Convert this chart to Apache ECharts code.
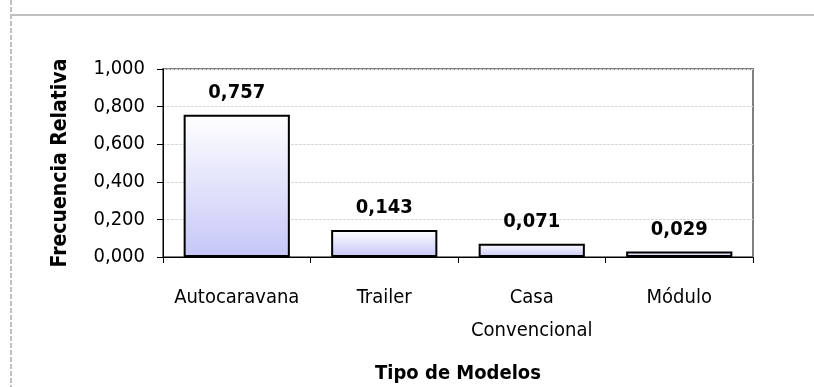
<!DOCTYPE html>
<html>
<head>
<meta charset="utf-8">
<script src="https://cdn.jsdelivr.net/npm/echarts@6/dist/echarts.min.js"></script>
<style>
  html, body { margin: 0; padding: 0; background: #fff; }
  #chart { width: 814px; height: 387px; }
</style>
</head>
<body>
<div id="chart"></div>
<script>
// Frecuencia relativa por tipo de modelo
const categories = ['Autocaravana', 'Trailer', 'Casa\nConvencional', 'Módulo'];
const frecuencias = [0.757, 0.143, 0.071, 0.029];
const yTicks = [0, 0.2, 0.4, 0.6, 0.8, 1.0];

const FONT = '"DejaVu Sans Condensed", "DejaVu Sans", sans-serif';
const fmt = v => v.toFixed(3).replace('.', ',');

const chart = echarts.init(document.getElementById('chart'), null, { renderer: 'canvas' });

chart.setOption({
  animation: false,
  backgroundColor: '#ffffff',
  grid: { left: 163, right: 61, top: 69, bottom: 130, show: true, borderColor: '#808080', borderWidth: 2, backgroundColor: 'transparent' },
  graphic: [
    { type: 'line', shape: { x1: 11, y1: 0, x2: 11, y2: 387 }, style: { stroke: '#c0c0c0', lineWidth: 2, lineDash: [5, 2] } },
    { type: 'line', shape: { x1: 11, y1: 15, x2: 814, y2: 15 }, style: { stroke: '#c0c0c0', lineWidth: 2 } }
  ],
  xAxis: {
    type: 'category',
    data: categories,
    name: 'Tipo de Modelos',
    nameLocation: 'middle',
    nameGap: 107,
    nameTextStyle: { fontFamily: FONT, fontSize: 20, fontWeight: 'bold', color: '#000' },
    axisLine: { lineStyle: { color: '#000', width: 1 } },
    axisTick: { show: true, length: 6, lineStyle: { color: '#000' } },
    axisLabel: { fontFamily: FONT, fontSize: 20, color: '#000', margin: 24, lineHeight: 33, interval: 0 }
  },
  yAxis: {
    type: 'value',
    min: 0,
    max: 1,
    interval: 0.2,
    name: 'Frecuencia Relativa',
    nameLocation: 'middle',
    nameGap: 92,
    nameRotate: 90,
    nameTextStyle: { fontFamily: FONT, fontSize: 21, fontWeight: 'bold', color: '#000' },
    axisLine: { show: true, lineStyle: { color: '#000', width: 1 } },
    axisTick: { show: true, length: 6, inside: false, lineStyle: { color: '#000' } },
    axisLabel: { fontFamily: FONT, fontSize: 20, color: '#000', margin: 18, formatter: v => fmt(v) },
    splitLine: { show: true, lineStyle: { color: '#d8d8d8', type: [3, 1], width: 1 } }
  },
  series: [{
    type: 'bar',
    data: frecuencias,
    barWidth: '72%',
    itemStyle: {
      borderColor: '#000',
      borderWidth: 2,
      color: new echarts.graphic.LinearGradient(0, 0, 0, 1, [
        { offset: 0, color: '#ffffff' },
        { offset: 1, color: '#c6c6f8' }
      ])
    },
    label: {
      show: true,
      position: 'top',
      distance: 12,
      fontFamily: FONT,
      fontSize: 20,
      fontWeight: 'bold',
      color: '#000',
      formatter: p => fmt(p.value)
    }
  }]
});
</script>
</body>
</html>
